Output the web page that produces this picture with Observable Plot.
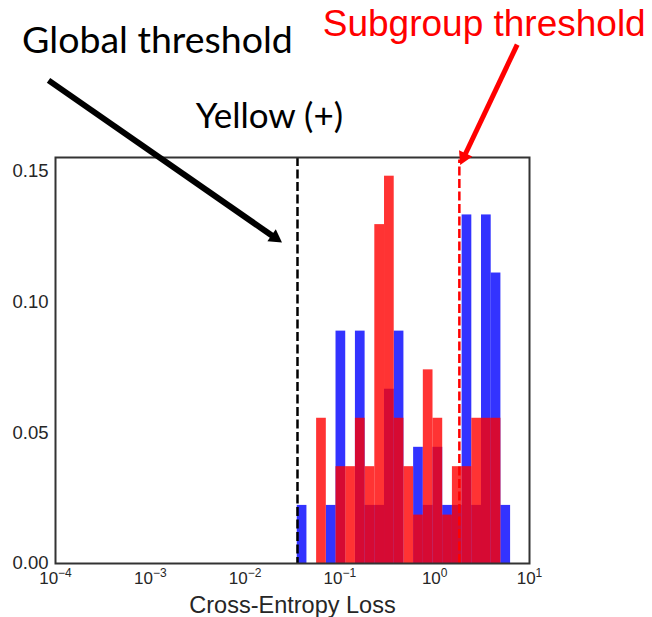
<!DOCTYPE html>
<html><head><meta charset="utf-8">
<script src="https://cdn.jsdelivr.net/npm/d3@7"></script>
<script src="https://cdn.jsdelivr.net/npm/@observablehq/plot@0.6"></script>
<style>body{margin:0;background:#fff} #chart svg{display:block}</style>
</head><body><div id="chart"></div>
<script>
// Log-spaced histogram bin edges (Cross-Entropy Loss)
const binEdges = [0.0355, 0.0449, 0.0568, 0.0719, 0.0910, 0.1152, 0.1458, 0.1845, 0.2335, 0.2956, 0.3741, 0.4735, 0.5993, 0.7585, 0.9598, 1.2148, 1.5376, 1.9458, 2.463, 3.117, 3.945, 4.993, 6.319];
// Per-bin counts (normalized to proportions when drawn)
const blueCounts = [1, 0, 0, 1, 4, 0, 4, 1, 1, 3, 4, 0, 2, 1, 2, 1, 1, 6, 1, 6, 5, 1];
const redCounts  = [0, 0, 3, 0, 2, 2, 3, 2, 7, 8, 3, 2, 1, 4, 3, 1, 2, 2, 3, 3, 3, 0];
const globalThreshold = 0.0357;
const subgroupThreshold = 1.82;
const xTicks = [1e-4, 1e-3, 1e-2, 1e-1, 1, 10];
const yTicks = [0, 0.05, 0.10, 0.15];
const titleText = ["Yellow (+)"];
const xLabel = ["Cross-Entropy Loss"];
// annotation anchors in data coordinates
const globalNote = [{text: "Global threshold", x: 0.001189, y: 0.1951}];
const subgroupNote = [{text: "Subgroup threshold", x: 3.33, y: 0.2016}];
const titleAnchor = [{text: titleText[0], x: 0.01803, y: 0.1664}];
const globalArrow = [{x1: 8.44e-5, y1: 0.1848, x2: 0.0207, y2: 0.1246}];
const subgroupArrow = [{x1: 7.42, y1: 0.1985, x2: 2.029, y2: 0.1554}];

function toRows(counts) {
  const total = d3.sum(counts);
  return counts.map((c, i) => ({x1: binEdges[i], x2: binEdges[i + 1], y: c / total}));
}
const blueRows = toRows(blueCounts);
const redRows = toRows(redCounts);

const fmtPow = d => "10^" + String(Math.round(Math.log10(d))).replace("-", "\u2212");

const plot = Plot.plot({
  width: 652,
  height: 617,
  marginLeft: 55,
  marginRight: 123,
  marginTop: 157,
  marginBottom: 54,
  style: {fontFamily: "'Liberation Sans', Arial, sans-serif", fontSize: "17px", color: "#262626", background: "#fff"},
  x: {type: "log", domain: [1e-4, 10], ticks: xTicks, tickFormat: fmtPow, tickSize: 0, tickPadding: 8, label: null},
  y: {domain: [0, 0.1553], ticks: yTicks, tickFormat: d3.format(".2f"), tickSize: 0, tickPadding: 7, label: null},
  marks: [
    Plot.rectY(blueRows, {x1: "x1", x2: "x2", y: "y", fill: "#0000ff", fillOpacity: 0.8}),
    Plot.rectY(redRows, {x1: "x1", x2: "x2", y: "y", fill: "#ff0000", fillOpacity: 0.8}),
    Plot.ruleX([globalThreshold], {stroke: "#000", strokeWidth: 2.5, strokeDasharray: "9,3.5"}),
    Plot.ruleX([subgroupThreshold], {stroke: "#ff0000", strokeWidth: 2.5, strokeDasharray: "9,3.5", y1: 0, y2: 0.1543}),
    Plot.frame({stroke: "#333", strokeWidth: 2}),
    Plot.text(xLabel, {text: d => d, frameAnchor: "bottom", lineAnchor: "bottom", dy: 49, fontSize: 23.5, fill: "#262626"}),
    Plot.text(titleAnchor, {x: "x", y: "y", text: "text", lineAnchor: "bottom", fontSize: 35, fill: "#000", fontFamily: "Lato, 'Open Sans', sans-serif"}),
    Plot.text(globalNote, {x: "x", y: "y", text: "text", lineAnchor: "bottom", fontSize: 37.5, fill: "#000", fontFamily: "Lato, 'Open Sans', sans-serif"}),
    Plot.text(subgroupNote, {x: "x", y: "y", text: "text", lineAnchor: "bottom", fontSize: 37, fill: "#ff0000"}),
    Plot.link(globalArrow, {x1: "x1", y1: "y1", x2: "x2", y2: "y2", stroke: "#000", strokeWidth: 6}),
    Plot.dot(globalArrow, {x: "x2", y: "y2", symbol: "triangle2", r: 7, fill: "#000", rotate: 124.9}),
    Plot.link(subgroupArrow, {x1: "x1", y1: "y1", x2: "x2", y2: "y2", stroke: "#ff0000", strokeWidth: 5}),
    Plot.dot(subgroupArrow, {x: "x2", y: "y2", symbol: "triangle2", r: 7, fill: "#ff0000", rotate: 205.4})
  ]
});

// Render "10^n" tick labels with a raised, smaller exponent; enlarge y tick labels
const svgNS = "http://www.w3.org/2000/svg";
plot.querySelectorAll("text").forEach(t => {
  const s = t.textContent;
  const m = /^10\^(.+)$/.exec(s);
  if (m) {
    t.textContent = "";
    const base = document.createElementNS(svgNS, "tspan");
    base.textContent = "10";
    const exp = document.createElementNS(svgNS, "tspan");
    exp.textContent = m[1];
    exp.setAttribute("font-size", "12px");
    exp.setAttribute("dy", "-0.55em");
    t.appendChild(base);
    t.appendChild(exp);
  } else if (/^0\.\d\d$/.test(s)) {
    t.setAttribute("font-size", "18.5px");
  }
});
document.getElementById("chart").appendChild(plot);
</script></body></html>
